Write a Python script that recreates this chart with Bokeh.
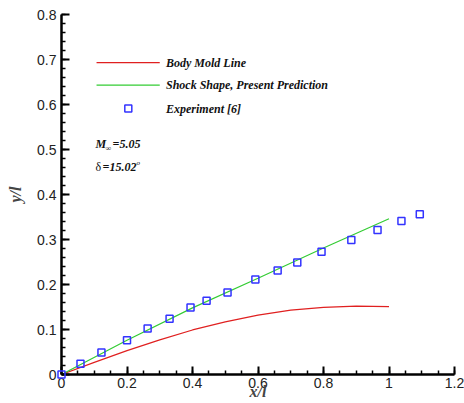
from bokeh.plotting import figure
from bokeh.models import FixedTicker, Label, Range1d
from bokeh.embed import file_html
from bokeh.resources import INLINE
import numpy as np

# Body mold line
body_x = [0.0, 0.1, 0.2, 0.3, 0.4, 0.5, 0.6, 0.7, 0.8, 0.9, 1.0]
body_y = [0.0, 0.027, 0.053, 0.077, 0.099, 0.117, 0.132, 0.143, 0.149, 0.152, 0.151]
# Shock shape, present prediction
shock_x = [0.0, 0.2, 0.4, 0.6, 0.8, 1.0]
shock_y = [0.0, 0.076, 0.148, 0.214, 0.281, 0.346]
# Experiment [6]
exp_x = [0.0, 0.058, 0.122, 0.2, 0.263, 0.33, 0.394, 0.443, 0.507, 0.592, 0.66, 0.72, 0.794, 0.885, 0.965, 1.038, 1.094]
exp_y = [0.0, 0.024, 0.049, 0.076, 0.102, 0.124, 0.149, 0.164, 0.182, 0.211, 0.231, 0.249, 0.273, 0.299, 0.321, 0.341, 0.356]

x_ticks = [0.0, 0.2, 0.4, 0.6, 0.8, 1.0, 1.2]
x_labels = ["0", "0.2", "0.4", "0.6", "0.8", "1", "1.2"]
y_ticks = [0.0, 0.1, 0.2, 0.3, 0.4, 0.5, 0.6, 0.7, 0.8]
y_labels = ["0", "0.1", "0.2", "0.3", "0.4", "0.5", "0.6", "0.7", "0.8"]

legend_names = ["Body Mold Line", "Shock Shape, Present Prediction", "Experiment [6]"]

RED = "#e02020"
GREEN = "#33cc33"
BLUE = "#3333ff"
SERIF = "Liberation Serif"
SANS = "Liberation Sans"

p = figure(width=464, height=403, output_backend="svg", toolbar_location=None,
           x_range=Range1d(0, 1.2), y_range=Range1d(0, 0.8),
           min_border_left=61, min_border_right=10, min_border_top=14, min_border_bottom=29)
p.outline_line_color = None
p.xgrid.visible = False
p.ygrid.visible = False

p.line(body_x, body_y, line_color=RED, line_width=1.2)
p.line(shock_x, shock_y, line_color=GREEN, line_width=1.2)
p.scatter(exp_x, exp_y, marker="square", size=7, fill_color=None, line_color=BLUE, line_width=1.5,
          level="overlay")

# manual legend
lx0, lx1, ltx = 0.107, 0.30, 0.319
ly = [0.693, 0.643, 0.591]
p.line([lx0, lx1], [ly[0], ly[0]], line_color=RED, line_width=1.2)
p.line([lx0, lx1], [ly[1], ly[1]], line_color=GREEN, line_width=1.2)
p.scatter([0.204], [ly[2]], marker="square", size=7, fill_color=None, line_color=BLUE, line_width=1.5)

def lab(x, y, text, size="12px", style="bold italic", xo=0, yo=0):
    p.add_layout(Label(x=x, y=y, text=text, text_font=SERIF, text_font_style=style,
                       text_font_size=size, text_baseline="middle", text_color="#111111",
                       x_offset=xo, y_offset=yo))

for name, yy in zip(legend_names, ly):
    lab(ltx, yy, name)

# M∞ = 5.05
lab(0.104, 0.513, "M")
lab(0.104, 0.513, "\u221e", size="8px", style="normal", xo=10, yo=-5)
lab(0.104, 0.513, "=5.05", xo=17)
# δ = 15.02°
lab(0.104, 0.462, "\u03b4", style="normal")
lab(0.104, 0.462, "=15.02", xo=7)
lab(0.104, 0.462, "o", size="7px", style="italic", xo=41, yo=4)

x_minor = [round(v, 3) for v in np.arange(0, 1.2001, 0.05)]
y_minor = [round(v, 3) for v in np.arange(0, 0.8001, 0.02)]
p.xaxis.ticker = FixedTicker(ticks=x_ticks, minor_ticks=x_minor)
p.yaxis.ticker = FixedTicker(ticks=y_ticks, minor_ticks=y_minor)
p.xaxis.major_label_overrides = dict(zip(x_ticks, x_labels))
p.yaxis.major_label_overrides = dict(zip(y_ticks, y_labels))

for ax in (p.xaxis, p.yaxis):
    ax.axis_line_width = 2.5
    ax.axis_line_color = "black"
    ax.major_tick_in = 8
    ax.major_tick_out = 0
    ax.minor_tick_in = 4
    ax.minor_tick_out = 0
    ax.major_tick_line_width = 2
    ax.minor_tick_line_width = 1.5
    ax.major_tick_line_color = "black"
    ax.minor_tick_line_color = "black"
    ax.major_label_text_font = SANS
    ax.major_label_text_font_size = "14px"
    ax.major_label_text_color = "#222222"
    ax.axis_label_text_font = SERIF
    ax.axis_label_text_font_style = "bold italic"
    ax.axis_label_text_font_size = "16px"

p.xaxis.axis_label = "x/l"
p.yaxis.axis_label = "y/l"
p.xaxis.major_label_standoff = 3
p.yaxis.major_label_standoff = 5
p.xaxis.axis_label_standoff = -8
p.yaxis.axis_label_standoff = 10

open("out.html", "w").write(file_html(p, INLINE))
